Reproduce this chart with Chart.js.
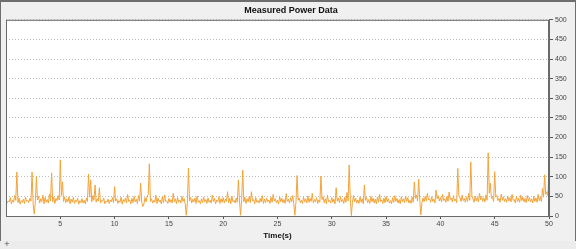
<!DOCTYPE html>
<html>
<head>
<meta charset="utf-8">
<script src="https://cdn.jsdelivr.net/npm/chart.js@4/dist/chart.umd.min.js"></script>
<style>
  html, body { margin: 0; padding: 0; background: #f0f0f0; }
  #wrap { position: relative; width: 576px; height: 249px; overflow: hidden; }
  #frame { position: absolute; left: 0; top: 0; width: 574px; height: 239px; border: 1px solid #6e6e6e; border-top: 2px solid #6e6e6e; box-sizing: content-box; }
  #status { position: absolute; left: 0; top: 241px; width: 576px; height: 8px; background: #ececec; font: 7px "DejaVu Sans", sans-serif; color: #444; }
  #status span { position: absolute; left: 4px; top: -1px; }
  canvas { position: absolute; left: 0; top: 0; }
</style>
</head>
<body>
<div id="wrap">
  <canvas id="c" width="576" height="241"></canvas>
  <div id="frame"></div>
  <div id="status"><span>+</span></div>
</div>
<script>
// samples at 0.0, 0.2, 0.4 ... 50.0 s
const power = [
  44, 38, 47, 41, 52, 112, 46, 39, 43, 48,
  40, 45, 112, 5, 100, 50, 44, 53, 47, 42,
  56, 110, 48, 45, 52, 143, 87, 49, 44, 49,
  43, 47, 41, 45, 39, 44, 40, 46, 107, 92,
  52, 79, 44, 72, 40, 46, 38, 43, 41, 47,
  75, 44, 39, 48, 42, 46, 55, 41, 45, 50,
  43, 52, 84, 24, 47, 51, 133, 44, 40, 53,
  46, 41, 49, 54, 38, 45, 42, 58, 44, 47,
  41, 50, 45, 2, 122, 48, 43, 46, 51, 39,
  44, 48, 42, 46, 40, 53, 45, 41, 49, 44,
  47, 43, 62, 45, 51, 40, 46, 92, 2, 117,
  48, 44, 50, 62, 42, 47, 39, 45, 52, 43,
  46, 41, 48, 55, 44, 40, 49, 45, 42, 57,
  43, 47, 52, 2, 103, 46, 40, 48, 44, 51,
  45, 58, 42, 47, 41, 102, 49, 44, 53, 40,
  47, 43, 72, 46, 50, 42, 48, 60, 130, 1,
  52, 45, 41, 49, 44, 79, 47, 42, 50, 46,
  43, 48, 55, 41, 46, 50, 44, 39, 47, 52,
  45, 42, 49, 44, 51, 47, 40, 48, 87, 53,
  94, 3, 46, 50, 58, 44, 49, 43, 66, 52,
  47, 55, 44, 50, 61, 46, 52, 43, 121, 48,
  53, 45, 49, 57, 138, 44, 51, 47, 58, 50,
  46, 54, 161, 84, 48, 113, 52, 45, 56, 49,
  44, 51, 47, 55, 42, 50, 46, 53, 48, 45,
  52, 47, 44, 50, 46, 55, 48, 70, 105, 62, 125
];
// samples in between, at 0.1, 0.3 ... 49.9 s
const powerMid = [
  33, 36, 31, 35, 40, 34, 30, 35, 32, 37,
  34, 38, 30, 36, 41, 33, 37, 31, 35, 33,
  38, 36, 32, 39, 41, 52, 37, 34, 36, 31,
  35, 32, 36, 30, 34, 33, 31, 37, 48, 36,
  40, 35, 38, 33, 37, 31, 35, 32, 36, 34,
  38, 32, 35, 30, 36, 33, 37, 31, 34, 36,
  32, 38, 35, 31, 36, 55, 37, 33, 35, 32,
  36, 31, 34, 37, 32, 35, 33, 36, 31, 35,
  33, 37, 31, 34, 38, 33, 36, 32, 35, 31,
  34, 36, 32, 35, 33, 37, 31, 36, 32, 35,
  33, 37, 34, 31, 36, 33, 35, 38, 44, 36,
  32, 36, 34, 38, 31, 35, 33, 36, 32, 34,
  36, 32, 35, 38, 33, 31, 36, 34, 32, 37,
  33, 36, 31, 35, 40, 34, 32, 36, 33, 35,
  37, 33, 36, 32, 35, 42, 34, 31, 36, 33,
  35, 31, 38, 34, 36, 32, 35, 38, 47, 35,
  36, 33, 32, 35, 31, 40, 34, 32, 36, 33,
  31, 35, 37, 32, 34, 36, 33, 31, 35, 37,
  33, 31, 36, 34, 37, 33, 32, 35, 45, 38,
  40, 34, 36, 38, 41, 35, 37, 33, 44, 38,
  36, 39, 35, 37, 42, 36, 38, 34, 50, 37,
  39, 35, 37, 40, 52, 35, 38, 36, 41, 37,
  36, 40, 58, 45, 37, 48, 39, 35, 40, 37,
  35, 38, 36, 40, 33, 37, 35, 39, 36, 34,
  38, 36, 33, 37, 35, 39, 37, 48, 55, 52
];
const timeTicks = [5, 10, 15, 20, 25, 30, 35, 40, 45, 50];
const yMax = 500;

const pts = [];
power.forEach((p, i) => {
  pts.push({ x: i * 0.2, y: p });
  if (i < powerMid.length) pts.push({ x: i * 0.2 + 0.1, y: powerMid[i] });
});

// grey surround, white plot area, dark border
const plotBox = {
  id: 'plotBox',
  beforeDraw(chart) {
    const a = chart.chartArea, ctx = chart.ctx;
    ctx.save();
    ctx.fillStyle = '#f0f0f0';
    ctx.fillRect(0, 0, chart.width, chart.height);
    ctx.fillStyle = '#ffffff';
    ctx.fillRect(a.left, a.top, a.right - a.left, a.bottom - a.top);
    ctx.restore();
  },
  afterDraw(chart) {
    const a = chart.chartArea, ctx = chart.ctx;
    ctx.save();
    ctx.strokeStyle = '#6a6a6a';
    ctx.lineWidth = 1;
    ctx.strokeRect(a.left + 0.5, a.top + 0.5, a.right - a.left - 1, a.bottom - a.top);
    ctx.restore();
  }
};

const font = 'Arial, "Liberation Sans", sans-serif';

new Chart(document.getElementById('c'), {
  type: 'line',
  data: {
    datasets: [{
      data: pts,
      borderColor: '#f2a43a',
      borderWidth: 1,
      pointRadius: 0,
      tension: 0,
      fill: false
    }]
  },
  options: {
    responsive: false,
    animation: false,
    layout: { padding: { left: 6, right: 0, top: 0, bottom: 0 } },
    plugins: {
      legend: { display: false },
      tooltip: { enabled: false },
      title: {
        display: true,
        text: 'Measured Power Data',
        color: '#111',
        font: { family: font, size: 9, weight: 'bold' },
        padding: { top: 5, bottom: 4 }
      }
    },
    scales: {
      x: {
        type: 'linear',
        min: 0, max: 50,
        afterBuildTicks(s) { s.ticks = timeTicks.map(v => ({ value: v })); },
        afterFit(s) { s.height = 25; },
        border: { display: true, color: '#6a6a6a' },
        grid: { display: true, drawOnChartArea: false, drawTicks: true, tickLength: 3, tickColor: '#555' },
        ticks: { color: '#444', font: { family: font, size: 7 }, padding: 1, maxRotation: 0 },
        title: { display: true, text: 'Time(s)', color: '#111', padding: { top: 0, bottom: 0 },
                 font: { family: font, size: 8, weight: 'bold' } }
      },
      y: {
        position: 'right',
        min: 0, max: yMax,
        afterFit(s) { s.width = 27; },
        border: { display: true, color: '#6a6a6a', dash: [1, 2] },
        grid: {
          color: '#bdbdbd',
          tickLength: 4,
          tickColor: ctx => (ctx.tick && ctx.tick.value % 50 === 0) ? '#555' : 'rgba(0,0,0,0)'
        },
        ticks: {
          stepSize: 25,
          color: '#444',
          padding: 2,
          font: { family: font, size: 7 },
          callback: v => (v % 50 === 0 ? v : '')
        }
      }
    }
  },
  plugins: [plotBox]
});
</script>
</body>
</html>
